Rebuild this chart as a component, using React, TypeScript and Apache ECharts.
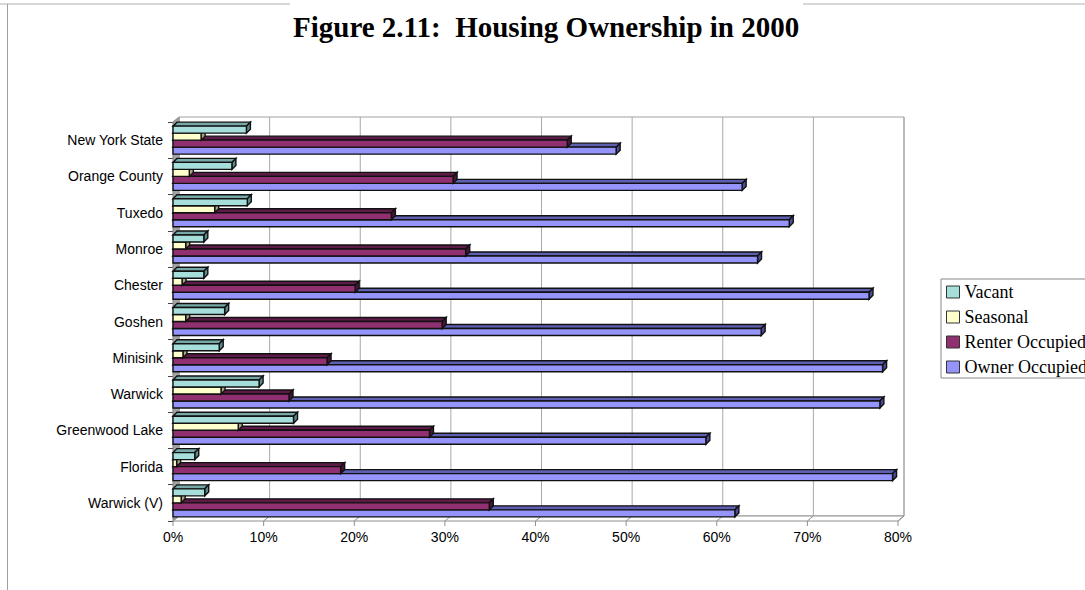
import React, { useEffect, useRef } from "react";
import * as echarts from "echarts";

const categories = [
  "New York State",
  "Orange County",
  "Tuxedo",
  "Monroe",
  "Chester",
  "Goshen",
  "Minisink",
  "Warwick",
  "Greenwood Lake",
  "Florida",
  "Warwick (V)",
];
const vacant = [8.1, 6.5, 8.2, 3.4, 3.4, 5.7, 5.1, 9.5, 13.3, 2.4, 3.5];
const seasonal = [3.1, 1.8, 4.6, 1.4, 1.0, 1.4, 1.1, 5.3, 7.2, 0.4, 0.9];
const renter = [43.5, 30.9, 24.1, 32.3, 20.1, 29.7, 17.0, 12.8, 28.3, 18.5, 34.9];
const owner = [48.9, 62.8, 68.0, 64.5, 76.8, 64.9, 78.3, 78.0, 58.8, 79.4, 62.0];
const seriesNames = ["Vacant", "Seasonal", "Renter Occupied", "Owner Occupied"];
const xMin = 0;
const xMax = 80;
const xInterval = 10;

const palettes = [
  { front: "#a6dedc", top: "#75a8a6", side: "#5b8c8a" },
  { front: "#ffffcc", top: "#c4c49c", side: "#a6a682" },
  { front: "#913070", top: "#5e1b47", side: "#4a1438" },
  { front: "#9494fb", top: "#5f5fb2", side: "#4b4b96" },
];

const BAR_H = 7;
const DEPTH = 4;
const WALL_DX = 6;
const WALL_DY = 5;

function barRenderer(i: number) {
  const pal = palettes[i];
  return (params: any, api: any) => {
    const v = api.value(0);
    const c = api.value(1);
    const p0 = api.coord([0, c]);
    const p1 = api.coord([v, c]);
    const x0 = p0[0];
    const x1 = p1[0];
    const yt = p0[1] - 14 + i * BAR_H;
    const stroke = "#111";
    const lw = 1.4;
    return {
      type: "group",
      children: [
        {
          type: "polygon",
          shape: {
            points: [
              [x0, yt],
              [x1, yt],
              [x1 + DEPTH, yt - DEPTH],
              [x0 + DEPTH, yt - DEPTH],
            ],
          },
          style: { fill: pal.top, stroke, lineWidth: lw },
        },
        {
          type: "polygon",
          shape: {
            points: [
              [x1, yt],
              [x1 + DEPTH, yt - DEPTH],
              [x1 + DEPTH, yt + BAR_H - DEPTH],
              [x1, yt + BAR_H],
            ],
          },
          style: { fill: pal.side, stroke, lineWidth: lw },
        },
        {
          type: "rect",
          shape: { x: x0, y: yt, width: x1 - x0, height: BAR_H },
          style: { fill: pal.front, stroke, lineWidth: lw },
        },
      ],
    };
  };
}

function frameRenderer(params: any, api: any) {
  const cs = params.coordSys;
  const L = cs.x;
  const T = cs.y;
  const R = cs.x + cs.width;
  const B = cs.y + cs.height;
  const children: any[] = [
    {
      type: "rect",
      shape: { x: L + WALL_DX, y: T - WALL_DY, width: cs.width, height: cs.height },
      style: { fill: "#fff", stroke: "#a0a0a0", lineWidth: 1 },
    },
    {
      type: "polygon",
      shape: {
        points: [
          [L, T],
          [L + WALL_DX, T - WALL_DY],
          [L + WALL_DX, B - WALL_DY],
          [L, B],
        ],
      },
      style: { fill: "#a3a3a3", stroke: "#808080", lineWidth: 1 },
    },
    {
      type: "polygon",
      shape: {
        points: [
          [L, B],
          [L + WALL_DX, B - WALL_DY],
          [R + WALL_DX, B - WALL_DY],
          [R, B],
        ],
      },
      style: { fill: "#fff", stroke: "#909090", lineWidth: 1 },
    },
  ];
  for (let v = xMin; v <= xMax; v += xInterval) {
    const x = api.coord([v, 0])[0];
    children.push({
      type: "line",
      shape: { x1: x + WALL_DX, y1: T - WALL_DY, x2: x + WALL_DX, y2: B - WALL_DY },
      style: { stroke: "#a8a8a8", lineWidth: 1 },
    });
    children.push({
      type: "line",
      shape: { x1: x + WALL_DX, y1: B - WALL_DY, x2: x, y2: B },
      style: { stroke: "#909090", lineWidth: 1 },
    });
    children.push({
      type: "line",
      shape: { x1: x, y1: B, x2: x, y2: B + 5 },
      style: { stroke: "#909090", lineWidth: 1 },
    });
  }
  return { type: "group", children };
}

export default function App() {
  const ref = useRef<HTMLDivElement>(null);
  useEffect(() => {
    if (!ref.current) return;
    const chart = echarts.init(ref.current, undefined, { renderer: "svg" });
    const seriesData = [vacant, seasonal, renter, owner];
    const series: any[] = [
      {
        type: "custom",
        name: "frame",
        silent: true,
        z: 1,
        renderItem: frameRenderer,
        data: [[0, 0]],
        encode: { x: 0, y: 1 },
      },
    ];
    seriesData.forEach((arr, i) => {
      series.push({
        type: "custom",
        name: seriesNames[i],
        z: 10 - i,
        itemStyle: { color: palettes[i].front },
        renderItem: barRenderer(i),
        data: arr.map((v, idx) => [v, idx]),
        encode: { x: 0, y: 1 },
      });
    });
    chart.setOption({
      animation: false,
      backgroundColor: "#fff",
      title: {
        text: "Figure 2.11:  Housing Ownership in 2000",
        left: 288,
        top: 7,
        textStyle: {
          fontFamily: "Liberation Serif",
          fontWeight: "bold",
          fontSize: 29,
          color: "#000",
        },
      },
      legend: {
        data: seriesNames,
        orient: "vertical",
        left: 941,
        top: 279,
        icon: "rect",
        itemWidth: 13,
        itemHeight: 12,
        itemGap: 7,
        padding: [4, 8, 2, 5],
        borderColor: "#888",
        borderWidth: 1,
        itemStyle: { borderColor: "#333", borderWidth: 1 },
        textStyle: { fontFamily: "Liberation Serif", fontSize: 18, color: "#000" },
      },
      grid: { left: 173, right: 187, top: 122, bottom: 69 },
      xAxis: {
        type: "value",
        min: xMin,
        max: xMax,
        interval: xInterval,
        axisLine: { show: false },
        axisTick: { show: false },
        splitLine: { show: false },
        axisLabel: {
          formatter: "{value}%",
          margin: 9,
          fontFamily: "Liberation Sans",
          fontSize: 14,
          color: "#000",
        },
      },
      yAxis: {
        type: "category",
        data: categories,
        inverse: true,
        axisLine: { show: true, lineStyle: { color: "#444", width: 1 } },
        axisTick: { show: true, length: 5, lineStyle: { color: "#444" } },
        splitLine: { show: false },
        axisLabel: {
          margin: 10,
          fontFamily: "Liberation Sans",
          fontSize: 14,
          color: "#000",
        },
      },
      graphic: [
        { type: "line", shape: { x1: 0, y1: 4, x2: 290, y2: 4 }, style: { stroke: "#b0b0b0", lineWidth: 1 } },
        { type: "line", shape: { x1: 803, y1: 4, x2: 1085, y2: 4 }, style: { stroke: "#b0b0b0", lineWidth: 1 } },
        { type: "line", shape: { x1: 7.5, y1: 4, x2: 7.5, y2: 590 }, style: { stroke: "#a0a0a0", lineWidth: 1 } },
      ],
      series,
    });
    return () => chart.dispose();
  }, []);
  return (
    <div
      ref={ref}
      style={{ position: "fixed", left: 0, top: 0, width: 1085, height: 590, background: "#fff" }}
    />
  );
}
